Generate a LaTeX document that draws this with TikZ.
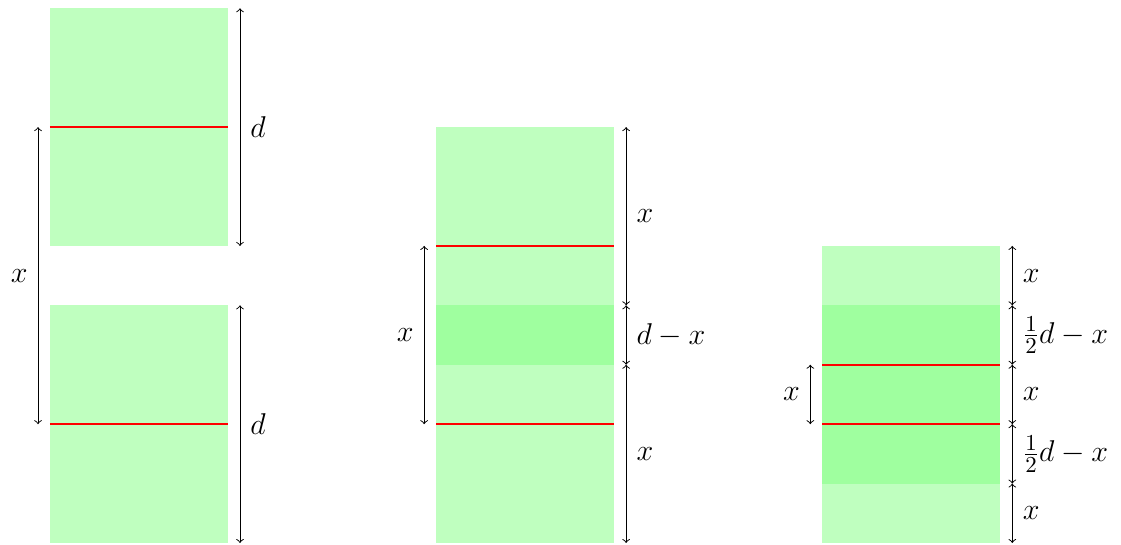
\documentclass[tikz,border=0pt]{standalone}
\begin{document}
\begin{tikzpicture}[
  light/.style={fill=green!25, draw=none},
  dark/.style={fill=green!37.5, draw=none},
  redline/.style={red, line width=1.05pt},
  dim/.style={<->, line width=0.45pt},
  lbl/.style={font=\fontsize{15.5}{18.5}\selectfont, inner sep=4.8pt}
]
\useasboundingbox (-0.84,-0.02) rectangle (18.03,9.14);
% ---- left panel ----
\fill[light] (0,5) rectangle (3,9);
\fill[light] (0,0) rectangle (3,4);
\coordinate (L1a) at (0,7); \coordinate (L1b) at (3,7);
\coordinate (L2a) at (0,2); \coordinate (L2b) at (3,2);
\draw[redline] (L1a) -- (L1b);
\draw[redline] (L2a) -- (L2b);
\coordinate (a1) at (3.2,9); \coordinate (a2) at (3.2,5);
\coordinate (a3) at (3.2,4); \coordinate (a4) at (3.2,0);
\draw[dim] (a1) -- node[right,lbl]{$d$} (a2);
\draw[dim] (a3) -- node[right,lbl]{$d$} (a4);
\coordinate (b1) at (-0.2,7); \coordinate (b2) at (-0.2,2);
\draw[dim] (b1) -- node[left,lbl]{$x$} (b2);
% ---- middle panel ----
\fill[light] (6.5,0) rectangle (9.5,7);
\fill[dark] (6.5,3) rectangle (9.5,4);
\coordinate (M1a) at (6.5,5); \coordinate (M1b) at (9.5,5);
\coordinate (M2a) at (6.5,2); \coordinate (M2b) at (9.5,2);
\draw[redline] (M1a) -- (M1b);
\draw[redline] (M2a) -- (M2b);
\coordinate (c1) at (9.7,7); \coordinate (c2) at (9.7,4);
\coordinate (c3) at (9.7,3); \coordinate (c4) at (9.7,0);
\draw[dim] (c1) -- node[right,lbl]{$x$} (c2);
\draw[dim] (c2) -- node[right,lbl]{$d-x$} (c3);
\draw[dim] (c3) -- node[right,lbl]{$x$} (c4);
\coordinate (e1) at (6.3,5); \coordinate (e2) at (6.3,2);
\draw[dim] (e1) -- node[left,lbl]{$x$} (e2);
% ---- right panel ----
\fill[light] (13,0) rectangle (16,5);
\fill[dark] (13,1) rectangle (16,4);
\coordinate (R1a) at (13,3); \coordinate (R1b) at (16,3);
\coordinate (R2a) at (13,2); \coordinate (R2b) at (16,2);
\draw[redline] (R1a) -- (R1b);
\draw[redline] (R2a) -- (R2b);
\coordinate (f1) at (16.2,5); \coordinate (f2) at (16.2,4);
\coordinate (f3) at (16.2,3); \coordinate (f4) at (16.2,2);
\coordinate (f5) at (16.2,1); \coordinate (f6) at (16.2,0);
\draw[dim] (f1) -- node[right,lbl]{$x$} (f2);
\draw[dim] (f2) -- node[right,lbl]{$\frac{1}{2}d-x$} (f3);
\draw[dim] (f3) -- node[right,lbl]{$x$} (f4);
\draw[dim] (f4) -- node[right,lbl]{$\frac{1}{2}d-x$} (f5);
\draw[dim] (f5) -- node[right,lbl]{$x$} (f6);
\coordinate (g1) at (12.8,3); \coordinate (g2) at (12.8,2);
\draw[dim] (g1) -- node[left,lbl]{$x$} (g2);
\end{tikzpicture}
\end{document}
